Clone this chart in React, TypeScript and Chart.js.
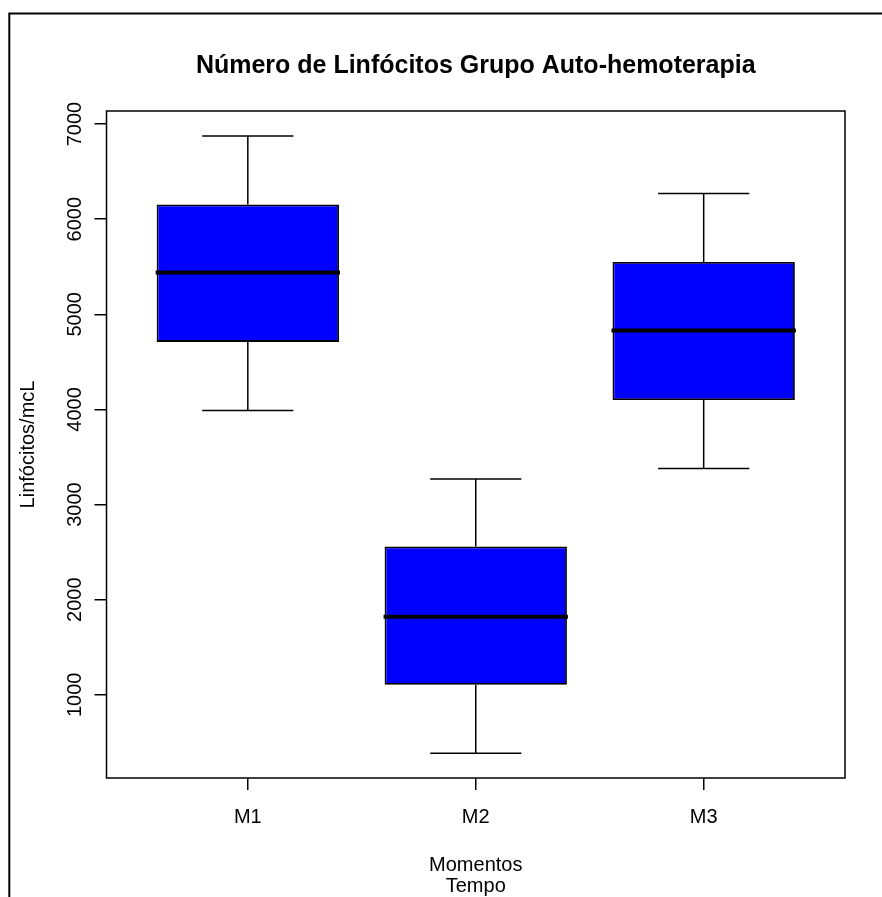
import React, { useEffect, useRef } from 'react';
import { Chart, registerables } from 'chart.js';

Chart.register(...registerables);

const categories = ['M1', 'M2', 'M3'];
const whiskerLow = [3990, 386, 3380];
const quartile1 = [4710, 1105, 4100];
const medians = [5440, 1820, 4830];
const quartile3 = [6155, 2560, 5550];
const whiskerHigh = [6875, 3270, 6270];
const yTicks = [1000, 2000, 3000, 4000, 5000, 6000, 7000];
const yRange = [126, 7137];
const xRange = [0.38, 3.62];
const chartTitle = 'Número de Linfócitos Grupo Auto-hemoterapia';
const yTitle = 'Linfócitos/mcL';
const xTitle = ['Momentos', 'Tempo'];

const FONT = "'Liberation Sans', Arial, Helvetica, sans-serif";

const boxPlugin = {
  id: 'boxParts',
  beforeDraw(chart: any) {
    const ctx = chart.ctx;
    ctx.save();
    ctx.strokeStyle = '#000';
    ctx.lineWidth = 2;
    ctx.strokeRect(9.3, 13.5, 1000, 1000);
    ctx.restore();
  },
  afterDatasetsDraw(chart: any) {
    const { ctx } = chart;
    const xs = chart.scales.x;
    const ys = chart.scales.y;
    const meta = chart.getDatasetMeta(0);
    ctx.save();
    ctx.strokeStyle = '#000';
    categories.forEach((_, i) => {
      const bar: any = meta.data[i];
      const cx = xs.getPixelForValue(i + 1);
      const half = bar.width / 2;
      const cap = half / 2;
      const yHi = ys.getPixelForValue(whiskerHigh[i]);
      const yLo = ys.getPixelForValue(whiskerLow[i]);
      const yQ1 = ys.getPixelForValue(quartile1[i]);
      const yQ3 = ys.getPixelForValue(quartile3[i]);
      const yMed = ys.getPixelForValue(medians[i]);
      ctx.lineWidth = 1.5;
      ctx.beginPath();
      ctx.moveTo(cx, yQ3);
      ctx.lineTo(cx, yHi);
      ctx.moveTo(cx, yQ1);
      ctx.lineTo(cx, yLo);
      ctx.moveTo(cx - cap, yHi);
      ctx.lineTo(cx + cap, yHi);
      ctx.moveTo(cx - cap, yLo);
      ctx.lineTo(cx + cap, yLo);
      ctx.stroke();
      ctx.lineWidth = 4;
      ctx.beginPath();
      ctx.moveTo(cx - half - 1, yMed);
      ctx.lineTo(cx + half + 1, yMed);
      ctx.stroke();
    });
    const a = chart.chartArea;
    ctx.lineWidth = 1.5;
    ctx.strokeRect(a.left, a.top, a.right - a.left, a.bottom - a.top);
    ctx.restore();
  },
};

export default function App() {
  const ref = useRef<HTMLCanvasElement | null>(null);

  useEffect(() => {
    if (!ref.current) return;
    const chart = new Chart(ref.current, {
      type: 'bar',
      data: {
        datasets: [
          {
            data: categories.map((_, i) => ({ x: i + 1, y: [quartile1[i], quartile3[i]] })) as any,
            backgroundColor: '#0000FF',
            borderColor: '#000',
            borderWidth: 1.8,
            borderSkipped: false,
            barPercentage: 1,
            categoryPercentage: 0.8,
          },
        ],
      },
      options: {
        responsive: false,
        animation: false,
        devicePixelRatio: 1,
        font: { family: FONT },
        layout: { padding: { left: 0, right: 37, top: 0, bottom: 0 } },
        plugins: {
          legend: { display: false },
          tooltip: { enabled: false },
          title: {
            display: true,
            text: chartTitle,
            color: '#000',
            font: { family: FONT, size: 25, weight: 'bold' },
            padding: { top: 51, bottom: 30 },
            fullSize: false,
          },
        },
        scales: {
          x: {
            type: 'linear',
            min: xRange[0],
            max: xRange[1],
            offset: false,
            afterBuildTicks: (s: any) => {
              s.ticks = categories.map((_, i) => ({ value: i + 1 }));
            },
            afterFit: (s: any) => {
              s.height = 119;
            },
            ticks: {
              callback: (_v: any, idx: number) => categories[idx],
              font: { family: FONT, size: 20 },
              color: '#000',
              padding: 15,
              autoSkip: false,
              maxRotation: 0,
              minRotation: 0,
            },
            grid: {
              offset: false,
              drawOnChartArea: false,
              drawTicks: true,
              tickLength: 12,
              color: '#000',
              lineWidth: 1.5,
            },
            border: { display: false },
            title: {
              display: true,
              text: xTitle,
              color: '#000',
              font: { family: FONT, size: 20, lineHeight: 1.05 },
              padding: { top: 0, bottom: 0 },
            },
          },
          y: {
            type: 'linear',
            min: yRange[0],
            max: yRange[1],
            afterBuildTicks: (s: any) => {
              s.ticks = yTicks.map((v) => ({ value: v }));
            },
            afterFit: (s: any) => {
              s.width = 106.5;
            },
            ticks: {
              callback: (v: any) => String(v),
              font: { family: FONT, size: 20 },
              color: '#000',
              padding: -3.5,
              minRotation: 90,
              maxRotation: 90,
              crossAlign: 'center',
              autoSkip: false,
            },
            grid: {
              drawOnChartArea: false,
              drawTicks: true,
              tickLength: 12,
              color: '#000',
              lineWidth: 1.5,
            },
            border: { display: false },
            title: {
              display: true,
              text: yTitle,
              color: '#000',
              font: { family: FONT, size: 20 },
              padding: { top: 16, bottom: 0 },
            },
          },
        },
      } as any,
      plugins: [boxPlugin],
    });
    return () => chart.destroy();
  }, []);

  return (
    <div style={{ position: 'absolute', left: 0, top: 0, width: 882, height: 897, background: '#fff' }}>
      <canvas ref={ref} width={882} height={897} style={{ display: 'block', width: 882, height: 897 }} />
    </div>
  );
}
